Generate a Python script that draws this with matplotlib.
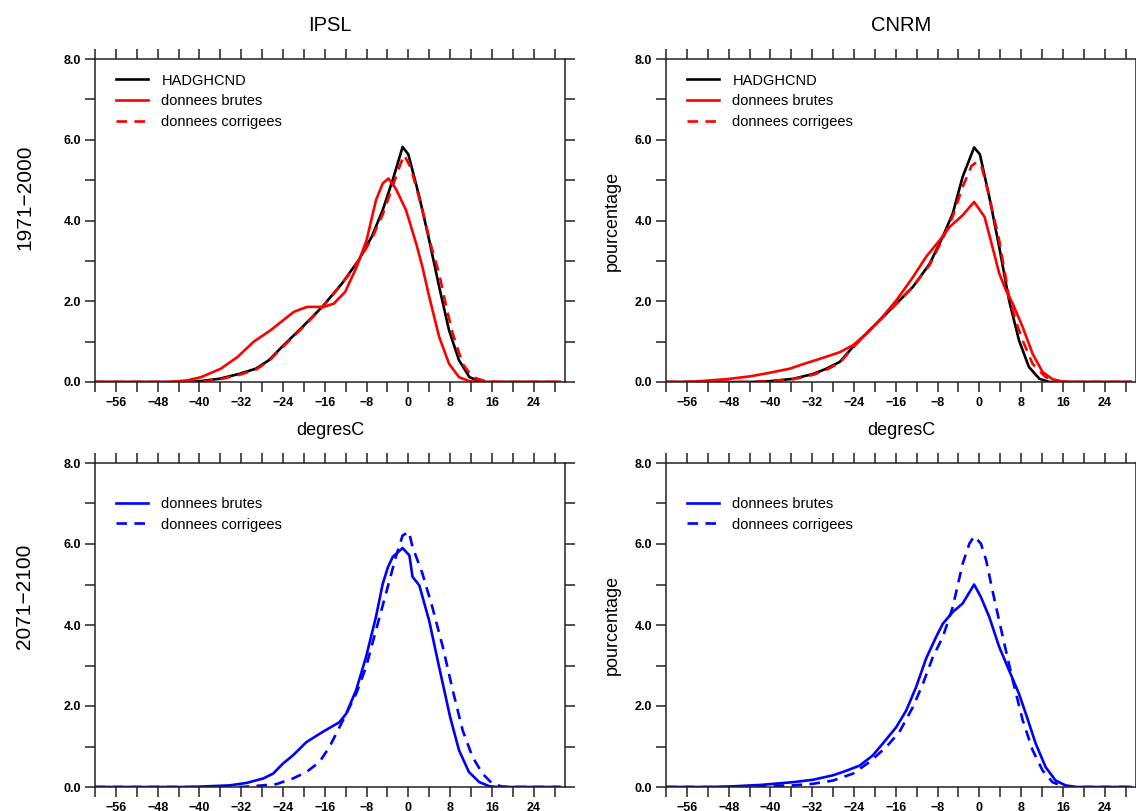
import matplotlib
matplotlib.use("Agg")
import matplotlib.pyplot as plt
from matplotlib.ticker import MultipleLocator, FormatStrFormatter

plt.rcParams['font.family'] = ['Liberation Sans', 'DejaVu Sans']

# distributions of daily Tmin (percentage per bin, degresC)
# --- 1971-2000, IPSL ---
ipsl_obs_x = [-60, -42, -40, -36.2, -32.4, -29.2, -26.7, -24.2, -20.3, -16.5, -12.7, -9.5, -7.0,
              -4.9, -3.0, -1.1, 0, 2.1, 4.0, 5.9, 7.8, 9.7, 11.7, 13.6, 15, 29]
ipsl_obs_y = [0, 0, 0.02, 0.08, 0.2, 0.33, 0.54, 0.87, 1.36, 1.86, 2.44, 3.02, 3.6,
              4.26, 5.0, 5.82, 5.64, 4.59, 3.51, 2.36, 1.28, 0.54, 0.12, 0.02, 0, 0]
ipsl_raw_x = [-60, -45.5, -42.3, -39.7, -35.9, -32.7, -29.6, -26.4, -21.9, -19.4, -16.2, -14.3, -12.1,
              -9.9, -8.0, -6.2, -4.9, -3.8, -2.4, -0.45, 1.5, 2.7, 4.0, 5.9, 7.8, 9.7, 11.7, 13.5, 29]
ipsl_raw_y = [0, 0, 0.04, 0.12, 0.33, 0.62, 1.0, 1.28, 1.74, 1.86, 1.86, 1.94, 2.23,
              2.85, 3.51, 4.5, 4.92, 5.04, 4.79, 4.26, 3.43, 2.85, 2.11, 1.12, 0.45, 0.12, 0.02, 0, 0]
ipsl_cor_x = [-60, -40, -36, -32, -29, -26.7, -24.2, -20.3, -16.5, -12.7, -9.5, -7, -4.9, -3, -1.5,
              -0.8, 0.5, 2.7, 4.5, 5.9, 7.2, 8.5, 10.4, 12.3, 14.8, 17, 29]
ipsl_cor_y = [0, 0, 0.07, 0.19, 0.32, 0.52, 0.85, 1.34, 1.85, 2.43, 3.0, 3.55, 4.15, 4.85, 5.4,
              5.62, 5.3, 4.26, 3.3, 2.69, 1.9, 1.2, 0.45, 0.12, 0.02, 0, 0]

# --- 1971-2000, CNRM ---
cnrm_obs_x = [-60, -44, -40.1, -35.6, -31.8, -29.3, -26.7, -24.2, -20.4, -16.5, -12.7, -9.5, -7.0,
              -5.1, -3.2, -1.0, 0.1, 1.9, 3.8, 5.7, 7.6, 9.5, 11.5, 13.4, 15, 29]
cnrm_obs_y = [0, 0, 0.02, 0.08, 0.2, 0.33, 0.5, 0.87, 1.36, 1.86, 2.36, 2.93, 3.6,
              4.17, 5.08, 5.81, 5.64, 4.59, 3.35, 2.02, 1.03, 0.37, 0.08, 0, 0, 0]
cnrm_raw_x = [-60, -57, -54.7, -48.4, -43.9, -40.1, -36.3, -33.1, -29.9, -26.7, -24.2, -21.6, -19.1,
              -15.9, -12.7, -10.2, -7.6, -5.7, -3.2, -1.0, 1.0, 2.5, 3.8, 5.1, 6.4, 8.3, 10.2,
              12.1, 14.0, 15.9, 18, 29]
cnrm_raw_y = [0, 0, 0.01, 0.07, 0.14, 0.23, 0.33, 0.47, 0.6, 0.74, 0.91, 1.2, 1.53,
              2.02, 2.6, 3.1, 3.51, 3.84, 4.13, 4.46, 4.09, 3.35, 2.69, 2.27, 1.94, 1.36, 0.7,
              0.25, 0.07, 0.01, 0, 0]
cnrm_cor_x = [-60, -44, -40.1, -35.6, -31.8, -29.3, -26.7, -24.2, -20.4, -16.5, -12.7, -9.5, -7.0,
              -5.1, -3.2, -1.5, -0.5, 0.5, 1.9, 3.8, 5.7, 7.0, 8.3, 10.2, 12.7, 15.3, 17, 29]
cnrm_cor_y = [0, 0, 0.02, 0.07, 0.18, 0.3, 0.48, 0.85, 1.36, 1.86, 2.36, 2.9, 3.55,
              4.1, 4.83, 5.35, 5.45, 5.3, 4.59, 3.51, 2.11, 1.5, 1.03, 0.45, 0.12, 0.02, 0, 0]

# --- 2071-2100, IPSL ---
ipsl_fut_raw_x = [-60, -42, -39.9, -34.2, -31.0, -27.8, -25.9, -24.0, -22.1, -19.5, -16.4, -13.2, -11.9,
                  -10.0, -8.1, -6.2, -4.9, -3.9, -3.0, -1.1, 0.2, 0.8, 2.1, 4.0, 5.9, 8.0, 9.7,
                  11.6, 13.6, 15.5, 17, 29]
ipsl_fut_raw_y = [0, 0, 0.01, 0.04, 0.1, 0.21, 0.33, 0.58, 0.78, 1.11, 1.36, 1.6, 1.81,
                  2.39, 3.21, 4.2, 5.02, 5.43, 5.68, 5.9, 5.72, 5.19, 4.98, 4.1, 2.96, 1.73, 0.91,
                  0.37, 0.12, 0.02, 0, 0]
ipsl_fut_cor_x = [-60, -32, -29.7, -25.3, -22.1, -19.5, -17.0, -15.1, -12.5, -10.0, -8.1, -6.2, -4.3,
                  -2.4, -1.1, 0.1, 0.8, 2.7, 4.6, 6.6, 8.5, 10.4, 12.3, 14.2, 16.1, 18.0, 20, 29]
ipsl_fut_cor_y = [0, 0, 0.02, 0.07, 0.21, 0.37, 0.62, 0.99, 1.65, 2.3, 2.96, 3.87, 4.77,
                  5.68, 6.21, 6.3, 5.93, 5.27, 4.44, 3.46, 2.39, 1.4, 0.74, 0.33, 0.08, 0.01, 0, 0]

# --- 2071-2100, CNRM ---
cnrm_fut_raw_x = [-60, -52, -48.4, -42.0, -35.6, -31.8, -28.0, -25.5, -22.9, -20.4, -18.5, -15.9, -14.0,
                  -12.1, -10.2, -8.3, -7.0, -5.1, -3.2, -1.0, 0.3, 1.9, 3.8, 5.7, 7.6, 8.9, 10.8,
                  12.7, 14.6, 16.5, 18.5, 29]
cnrm_fut_raw_y = [0, 0, 0.01, 0.05, 0.12, 0.18, 0.29, 0.4, 0.53, 0.78, 1.07, 1.48, 1.89,
                  2.47, 3.17, 3.7, 4.03, 4.32, 4.53, 5.0, 4.69, 4.2, 3.46, 2.88, 2.3, 1.81, 1.07,
                  0.49, 0.16, 0.04, 0, 0]
cnrm_fut_cor_x = [-60, -48, -45.2, -40.1, -35.6, -31.8, -28.0, -24.2, -21.0, -17.8, -15.3, -12.7, -10.8,
                  -8.9, -7.0, -5.1, -3.2, -1.9, -1.0, 0.3, 1.3, 2.5, 4.5, 6.4, 8.3, 10.2, 12.1,
                  14.0, 15.9, 17.5, 29]
cnrm_fut_cor_y = [0, 0, 0.01, 0.03, 0.04, 0.08, 0.16, 0.33, 0.62, 0.99, 1.36, 1.98, 2.55,
                  3.21, 3.7, 4.44, 5.51, 6.01, 6.19, 6.01, 5.6, 4.86, 3.7, 2.63, 1.65, 0.91, 0.41,
                  0.12, 0.02, 0, 0]

W, H = 1136, 811
fig = plt.figure(figsize=(W / 100, H / 100), dpi=100)


def box(left, top, right, bottom):
    # axes rectangle from pixel edges
    return [left / W, 1 - bottom / H, (right - left) / W, (bottom - top) / H]


def style(ax):
    ax.set_xlim(-60, 30)
    ax.set_ylim(0, 8)
    ax.xaxis.set_major_locator(MultipleLocator(8))
    ax.xaxis.set_minor_locator(MultipleLocator(4))
    ax.yaxis.set_major_locator(MultipleLocator(2))
    ax.yaxis.set_minor_locator(MultipleLocator(1))
    ax.yaxis.set_major_formatter(FormatStrFormatter('%.1f'))
    ax.tick_params(which='both', direction='out', length=7, width=1.1,
                   top=True, right=True, color='#222222')
    ax.tick_params(axis='x', which='major', pad=4, labelsize=9)
    ax.tick_params(axis='y', which='major', pad=3, labelsize=9)
    for lab in ax.get_xticklabels() + ax.get_yticklabels():
        lab.set_fontweight('bold')
    for s in ax.spines.values():
        s.set_linewidth(1.1)
        s.set_color('#222222')


def add_legend(ax, top):
    ax.legend(loc='upper left', bbox_to_anchor=(0.045, top), frameon=False,
              fontsize=10.5, handlelength=2.2, handletextpad=0.9,
              labelspacing=0.45, borderpad=0, borderaxespad=0)


lw = 1.9
dash = (0, (4, 2.8))

ax1 = fig.add_axes(box(95, 59, 565, 382))
ax2 = fig.add_axes(box(666, 59, 1136, 382))
ax3 = fig.add_axes(box(95, 463, 565, 787))
ax4 = fig.add_axes(box(666, 463, 1136, 787))

# present climate: observations vs raw / corrected model
for ax, ox, oy, rx, ry, cx, cy in [
        (ax1, ipsl_obs_x, ipsl_obs_y, ipsl_raw_x, ipsl_raw_y, ipsl_cor_x, ipsl_cor_y),
        (ax2, cnrm_obs_x, cnrm_obs_y, cnrm_raw_x, cnrm_raw_y, cnrm_cor_x, cnrm_cor_y)]:
    ax.plot(ox, oy, color='black', lw=lw, label='HADGHCND')
    ax.plot(rx, ry, color='red', lw=lw, label='donnees brutes')
    ax.plot(cx, cy, color='red', lw=lw, linestyle=dash, label='donnees corrigees')
    style(ax)
    add_legend(ax, 0.955)
    ax.set_xlabel('degresC', fontsize=13, labelpad=9)

# future climate
for ax, rx, ry, cx, cy in [
        (ax3, ipsl_fut_raw_x, ipsl_fut_raw_y, ipsl_fut_cor_x, ipsl_fut_cor_y),
        (ax4, cnrm_fut_raw_x, cnrm_fut_raw_y, cnrm_fut_cor_x, cnrm_fut_cor_y)]:
    ax.plot(rx, ry, color='blue', lw=lw, label='donnees brutes')
    ax.plot(cx, cy, color='blue', lw=lw, linestyle=dash, label='donnees corrigees')
    style(ax)
    add_legend(ax, 0.895)

for ax in (ax2, ax4):
    ax.set_ylabel('pourcentage', fontsize=13, labelpad=10)

ax1.set_title('IPSL', fontsize=14.5, pad=20)
ax2.set_title('CNRM', fontsize=14.5, pad=20)

fig.text(25 / W, 1 - 197 / H, '1971\u22122000', rotation=90, fontsize=15,
         ha='center', va='center')
fig.text(25 / W, 1 - 596 / H, '2071\u22122100', rotation=90, fontsize=15,
         ha='center', va='center')

fig.savefig('out.png', dpi=100)
